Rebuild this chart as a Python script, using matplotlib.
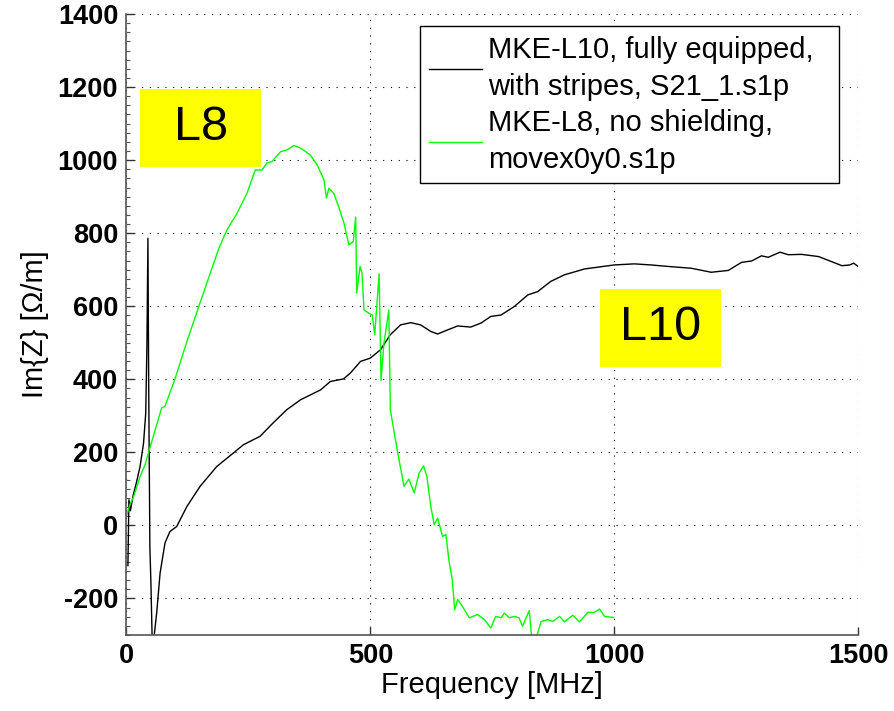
import matplotlib
matplotlib.use('Agg')
import matplotlib.pyplot as plt
from matplotlib.patches import Rectangle
from matplotlib.ticker import MultipleLocator

plt.rcParams['font.family'] = ['Liberation Sans', 'DejaVu Sans']
plt.rcParams['axes.unicode_minus'] = False

# Im{Z} of MKE-L10 (fully equipped, with stripes)
freq_l10 = [3, 5, 8, 14, 20, 28, 35, 39.5, 42, 44, 45.5, 48, 50, 53, 55, 57,
            62, 69, 79, 89, 103, 124, 151, 185, 219, 240, 274, 301, 329, 357,
            398, 418, 445, 459, 480, 500, 521, 541, 562, 583, 603, 624, 638,
            658, 679, 706, 727, 747, 768, 795, 823, 843, 870, 898, 939, 1000,
            1041, 1076, 1110, 1158, 1199, 1234, 1261, 1282, 1302, 1316, 1340,
            1357, 1384, 1419, 1446, 1467, 1483, 1491, 1500]
imz_l10 = [-110, 70, 40, 84, 115, 162, 225, 307, 500, 786, 400, -60, -150,
           -330, -340, -300, -239, -130, -48, -17, -3, 52, 107, 161, 198, 221,
           244, 281, 317, 344, 371, 394, 401, 417, 449, 458, 481, 522, 549,
           555, 549, 531, 524, 535, 546, 543, 554, 572, 576, 599, 631, 640,
           668, 686, 702, 713, 716, 713, 709, 704, 693, 698, 720, 724, 738,
           734, 748, 741, 742, 736, 722, 711, 713, 718, 709]

# Im{Z} of MKE-L8 (no shielding)
freq_l8 = [0, 7, 14, 28, 38, 55, 72, 79, 100, 125, 150, 189, 206, 227, 247,
           264, 278, 288, 298, 316, 329, 343, 357, 377, 391, 405, 410, 415,
           425, 435, 446, 456, 465, 470, 472, 479, 483, 487, 497, 504, 509,
           518, 522, 528, 538, 541, 552, 562, 569, 579, 590, 600, 609, 616,
           624, 631, 638, 648, 655, 661, 668, 673, 679, 689, 703, 720, 734,
           747, 757, 768, 775, 785, 795, 805, 812, 826, 831, 840, 850, 864,
           874, 888, 898, 915, 929, 946, 959, 970, 980, 999]
imz_l8 = [25, 57, 76, 134, 166, 244, 321, 326, 403, 508, 606, 757, 809, 855,
          909, 973, 973, 992, 996, 1023, 1028, 1040, 1033, 1014, 987, 946,
          896, 923, 909, 873, 827, 768, 777, 844, 636, 709, 691, 590, 581,
          576, 522, 689, 397, 499, 590, 317, 230, 157, 107, 127, 89, 143, 163,
          134, 52, 2, 20, -30, -25, -94, -149, -231, -203, -222, -253, -244,
          -258, -281, -249, -253, -240, -253, -249, -253, -276, -233, -310,
          -310, -263, -258, -263, -249, -264, -246, -264, -238, -238, -229,
          -249, -252]

label_l10 = 'MKE-L10, fully equipped,  \nwith stripes, S21_1.s1p'
label_l8 = 'MKE-L8, no shielding,\nmovex0y0.s1p'

# yellow tags: (text, x0, x1, y0, y1)
tags = [('L8', 28, 276, 981, 1195),
        ('L10', 971, 1220, 435, 648)]

fig = plt.figure(figsize=(8.95, 7.11), dpi=100)
ax = fig.add_axes([0.1413, 0.1069, 0.8174, 0.8734])

ax.plot(freq_l10, imz_l10, color='black', lw=1.0, label=label_l10)
ax.plot(freq_l8, imz_l8, color='#00ff00', lw=1.0, label=label_l8)

for txt, x0, x1, y0, y1 in tags:
    ax.add_patch(Rectangle((x0, y0), x1 - x0, y1 - y0, facecolor='#ffff00',
                           edgecolor='none', zorder=3))
    ax.text((x0 + x1) / 2, (y0 + y1) / 2, txt, ha='center', va='center',
            fontsize=35, zorder=4)

ax.set_xlim(0, 1500)
ax.set_ylim(-300, 1400)
ax.xaxis.set_major_locator(MultipleLocator(500))
ax.yaxis.set_major_locator(MultipleLocator(200))
ax.yaxis.set_minor_locator(MultipleLocator(25))

ax.grid(True, which='major', color='black', linestyle=(0, (1, 6)), lw=0.8)
for s in ['top', 'right']:
    ax.spines[s].set_visible(False)
for s in ['left', 'bottom']:
    ax.spines[s].set_color('#555555')
    ax.spines[s].set_linewidth(1.2)

ax.tick_params(which='major', direction='in', length=6, width=1,
               color='#333333', labelsize=19.5, pad=6)
ax.tick_params(which='minor', direction='in', length=3, width=0.8,
               color='#555555')
for lab in ax.get_xticklabels() + ax.get_yticklabels():
    lab.set_fontweight('bold')

ax.set_xlabel('Frequency [MHz]', fontsize=21, labelpad=1)
ax.set_ylabel('Im{Z} [\u03a9/m]', fontsize=21, labelpad=6)

leg = ax.legend(loc='upper right', bbox_to_anchor=(0.974, 0.98),
                borderaxespad=0, fontsize=21, handlelength=1.8,
                fancybox=False, framealpha=1, edgecolor='black',
                labelspacing=0.28, borderpad=0.32, handletextpad=0.2)
leg.get_frame().set_linewidth(1.0)
for t in leg.get_texts():
    t.set_linespacing(1.4)

plt.savefig('out.png', dpi=100)
plt.close()
